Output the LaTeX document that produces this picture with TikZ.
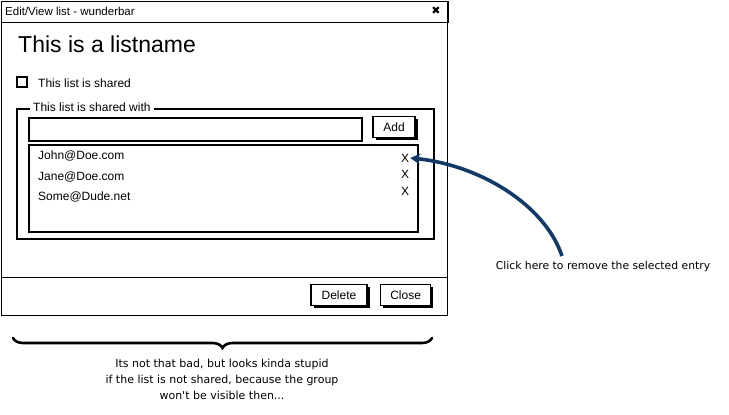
\documentclass[tikz,border=0pt]{standalone}
\usepackage{fontspec}
\setmainfont{Liberation Sans}
\newfontfamily\notefont{DejaVu Sans}
\usepackage{xcolor}
\usetikzlibrary{positioning,shadows,arrows.meta,decorations.pathreplacing}
\definecolor{arrowblue}{RGB}{18,58,100}

\begin{document}
\begin{tikzpicture}[x=1pt,y=-1pt,auto]
\tikzstyle{rect}=[draw, line width=1.6pt, inner sep=0pt, anchor=north west]
\tikzstyle{btn}=[draw, line width=1.6pt, fill=white, inner sep=0pt, minimum height=21pt, font=\fontsize{12}{14}\selectfont, drop shadow={shadow xshift=2.5pt, shadow yshift=-2.5pt, fill=black, opacity=1}]
\tikzstyle{txt}=[inner sep=0pt, anchor=base west, font=\fontsize{12}{14}\selectfont]
\tikzstyle{cross}=[inner sep=1pt, font=\fontsize{12}{14}\selectfont]
\tikzstyle{note}=[align=center, font=\notefont\fontsize{11}{16}\selectfont]
\useasboundingbox (0,0) rectangle (729,415);

% window
\node (win) [rect, line width=1.3pt, minimum width=446pt, minimum height=314pt] at (1,1) {};
\node (bar) [rect, line width=1.3pt, minimum width=447pt, minimum height=21pt] at (1,1) {};
\node (title) [txt, font=\fontsize{11.5}{14}\selectfont] at (5,16) {Edit/View list - wunderbar};
\node (pin) at (436,11) {\notefont\fontsize{11}{11}\selectfont ✖};
\node (foot) [rect, line width=1.3pt, minimum width=446pt, minimum height=38pt] at (1,277) {};

\node (head) [txt, font=\fontsize{23}{27}\selectfont] at (18,52) {This is a listname};
\node (chk) [draw, line width=1.4pt, minimum size=10pt, inner sep=0pt] at (22,82) {};
\node (shared) [txt] at (38,87) {This list is shared};

% group
\node (grp) [rect, minimum width=417pt, minimum height=130pt] at (16,108) {};
\node (legend) [txt, fill=white, inner sep=3pt] at (30,111.5) {This list is shared with};
\node (input) [rect, minimum width=333pt, minimum height=23pt] at (28,117) {};
\node (add) [btn, minimum width=42pt] at (394,127) {Add};
\node (lst) [rect, minimum width=389pt, minimum height=87pt] at (28,144) {};

\node (john) [txt] at (38,159.5) {John@Doe.com};
\node (jane) [txt] at ([yshift=-20.5pt]john.base west) {Jane@Doe.com};
\node (some) [txt] at ([yshift=-20.5pt]jane.base west) {Some@Dude.net};
\node (x1) [cross] at (405,158) {X};
\node (x2) [below of=x1, node distance=16.5pt, cross] {X};
\node (x3) [below of=x2, node distance=16.5pt, cross] {X};

% footer
\node (del) [btn, minimum width=56pt] at (339,295) {Delete};
\node (close) [btn, minimum width=50pt, right=12pt of del] {Close};

% remark
\node (click) [font=\notefont\fontsize{10.8}{13}\selectfont] at (603,267) {Click here to remove the selected entry};
\coordinate (tail) at (562,256);
\draw[arrowblue, line width=3.6pt, -{Stealth[length=10pt,width=11pt]}] (tail) .. controls (545,205) and (480,165) .. (x1.east);

\coordinate (bl) at (13,338);
\coordinate (br) at (432,338);
\draw[line width=2.6pt, line cap=round, decorate, decoration={brace, mirror, amplitude=10pt}] (bl) -- (br);
\node (remark) [note] at (222,379) {Its not that bad, but looks kinda stupid\\if the list is not shared, because the group\\won't be visible then...};
\end{tikzpicture}
\end{document}
